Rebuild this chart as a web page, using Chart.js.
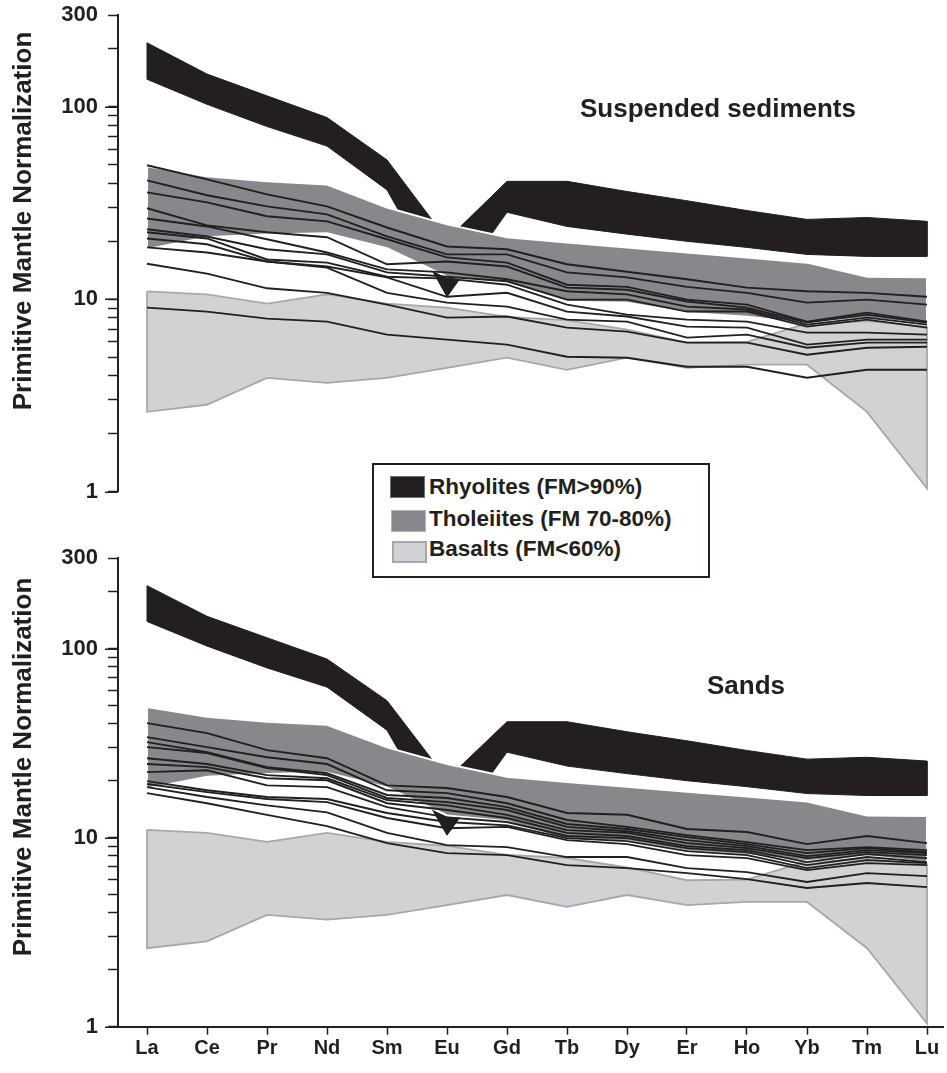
<!DOCTYPE html>
<html>
<head>
<meta charset="utf-8">
<title>REE patterns – suspended sediments and sands</title>
<script src="https://cdn.jsdelivr.net/npm/chart.js@4.4.1/dist/chart.umd.min.js"></script>
<style>
  html, body { margin: 0; padding: 0; background: #fff; }
  #page {
    position: relative; width: 947px; height: 1073px; overflow: hidden;
    font-family: "Liberation Sans", Arial, Helvetica, sans-serif; font-weight: bold; color: #231f20;
  }
  canvas { position: absolute; left: 0; }
  #topChart { top: 0; }
  #bottomChart { top: 540px; }
  .txt { position: absolute; white-space: nowrap; line-height: 1; }
  .caption { font-size: 26px; transform: translateX(-50%); }
  .ytitle { font-size: 26px; line-height: 26px; transform: translate(-50%, -50%) rotate(-90deg); }
  #legend {
    position: absolute; left: 372px; top: 463px; width: 338px; height: 115px;
    box-sizing: border-box; border: 2px solid #231f20; background: #fff;
  }
  .sw { position: absolute; box-sizing: border-box; width: 35px; height: 22px; }
  .legtxt { font-size: 22.5px; }
</style>
</head>
<body>
<div id="page">
  <canvas id="topChart" width="947" height="505"></canvas>
  <canvas id="bottomChart" width="947" height="533"></canvas>

  <div class="txt ytitle" style="left:22px; top:221px;">Primitive Mantle Normalization</div>
  <div class="txt ytitle" style="left:22px; top:767px;">Primitive Mantle Normalization</div>

  <div class="txt caption" style="left:718px; top:95px;">Suspended sediments</div>
  <div class="txt caption" style="left:746px; top:672px;">Sands</div>

  <div id="legend"></div>
  <div class="sw" style="left:390px; top:476px; background:#231f20; border:1px solid #6d6e71;"></div>
  <div class="sw" style="left:391px; top:510px; background:#87888c; border:1px solid #b3b4b7;"></div>
  <div class="sw" style="left:392px; top:541px; background:#d1d2d4; border:2px solid #a6a8ab;"></div>
  <div class="txt legtxt" style="left:429px; top:476px;">Rhyolites (FM&gt;90%)</div>
  <div class="txt legtxt" style="left:429px; top:508px;">Tholeiites (FM 70-80%)</div>
  <div class="txt legtxt" style="left:429px; top:538px;">Basalts (FM&lt;60%)</div>
</div>

<script>
// Rare earth elements along the x axis (order as plotted)
const elements = ['La', 'Ce', 'Pr', 'Nd', 'Sm', 'Eu', 'Gd', 'Tb', 'Dy', 'Er', 'Ho', 'Yb', 'Tm', 'Lu'];

// Y axis: tick marks and the values that carry a label
const yTickValues = [1, 2, 3, 4, 5, 6, 7, 8, 9, 10, 20, 30, 40, 50, 60, 70, 80, 90, 100, 200, 300];
const yLabelValues = [1, 10, 100, 300];

// Reference fields (upper / lower envelope, primitive-mantle normalized)
const rhyoliteUpper  = [215, 148, 114, 88, 53, 20.4, 41, 41, 36.3, 32.5, 28.9, 26, 26.6, 25.4];
const rhyoliteLower  = [139, 103, 79, 62.5, 37, 10.3, 28.3, 23.9, 21.8, 20, 18.6, 17.1, 16.7, 16.7];
const tholeiiteUpper = [49.1, 43.6, 41, 39.5, 30, 24.5, 21, 19.7, 18.6, 17.5, 16.5, 15.5, 13.1, 13];
const tholeiiteLower = [18.2, 21, 21.7, 22, 18.4, 13.1, 12.2, 9.7, 9.6, 8.5, 8.1, 7.5, 8.0, 7.4];
const basaltUpper    = [11, 10.6, 9.5, 10.6, 9.5, 9.05, 8.1, 7.8, 6.95, 5.95, 6.0, 7.5, 7.7, 7.2];
const basaltLower    = [2.6, 2.83, 3.9, 3.68, 3.9, 4.4, 4.97, 4.3, 4.97, 4.4, 4.57, 4.57, 2.6, 1.04];

// Suspended sediment samples
const ssA = [49.7, 42.0, 35.1, 30.4, 23.6, 18.8, 18.2, 15.2, 13.9, 12.7, 11.5, 11.0, 10.8, 10.3];
const ssB = [41.5, 34.7, 30.4, 27.6, 21.2, 17.1, 17.1, 13.8, 13.0, 11.6, 10.8, 9.61, 9.96, 9.38];
const ssC = [35.9, 31.9, 27.0, 25.4, 20.5, 16.5, 15.5, 11.9, 11.6, 9.96, 9.38, 7.65, 8.52, 7.65];
const ssD = [29.7, 24.2, 22.3, 21.0, 15.2, 15.7, 14.8, 11.5, 11.2, 9.73, 9.05, 7.56, 8.32, 7.56];
const ssE = [26.3, 23.9, 20.5, 17.5, 14.3, 13.8, 12.7, 11.0, 10.6, 9.16, 8.84, 7.38, 8.03, 7.38];
const ssF = [23.1, 21.2, 18.2, 17.1, 13.8, 13.1, 12.4, 9.96, 9.96, 8.63, 8.63, 7.21, 7.84, 7.12];
const ssG = [22.3, 20.7, 16.1, 15.5, 13.1, 12.8, 11.9, 9.38, 8.32, 7.84, 7.65, 6.71, 6.71, 6.55];
const ssH = [20.7, 19.3, 15.7, 14.8, 13.0, 10.3, 10.8, 8.63, 8.13, 7.21, 7.12, 5.81, 6.17, 6.17];
const ssI = [18.6, 17.5, 15.7, 14.6, 10.8, 9.61, 9.16, 7.84, 7.65, 6.32, 6.55, 5.60, 5.95, 5.95];
const ssJ = [15.3, 13.6, 11.4, 10.8, 9.38, 8.03, 8.13, 7.12, 6.79, 5.95, 5.95, 5.15, 5.60, 5.67];
const ssK = [9.05, 8.63, 7.93, 7.65, 6.55, 6.17, 5.81, 5.03, 4.97, 4.46, 4.46, 3.91, 4.30, 4.30];
const suspendedSamples = [ssA, ssB, ssC, ssD, ssE, ssF, ssG, ssH, ssI, ssJ, ssK];

// Sand samples
const sdA = [40.3, 35.7, 29.0, 26.3, 18.9, 18.3, 16.4, 13.5, 13.2, 11.1, 10.7, 9.24, 10.2, 9.35];
const sdB = [34.0, 30.1, 26.6, 24.5, 17.8, 17.2, 15.2, 12.4, 11.4, 10.3, 9.47, 8.59, 8.91, 8.59];
const sdC = [32.0, 28.3, 23.6, 21.9, 16.8, 16.2, 14.5, 11.8, 11.1, 10.06, 9.24, 8.28, 8.80, 8.38];
const sdD = [30.1, 28.0, 23.3, 21.4, 16.2, 15.4, 14.0, 11.4, 10.8, 9.70, 9.02, 7.98, 8.59, 8.28];
const sdE = [26.3, 24.5, 21.4, 20.6, 15.8, 14.8, 13.2, 10.96, 10.6, 9.35, 8.80, 7.79, 8.38, 8.08];
const sdF = [24.5, 23.6, 20.6, 20.1, 15.2, 14.0, 12.7, 10.6, 10.2, 9.02, 8.59, 7.42, 8.18, 7.79];
const sdG = [22.2, 22.7, 18.9, 18.5, 14.5, 12.8, 12.1, 10.2, 9.94, 8.80, 8.38, 7.15, 7.89, 7.42];
const sdH = [19.9, 17.8, 16.4, 16.0, 13.5, 12.1, 11.6, 9.94, 9.58, 8.48, 8.08, 6.90, 7.60, 7.33];
const sdI = [19.2, 17.4, 16.0, 15.4, 12.7, 11.2, 11.4, 9.70, 9.24, 8.08, 7.79, 6.73, 7.33, 7.15];
const sdJ = [18.5, 16.4, 14.8, 13.6, 10.6, 9.13, 8.91, 7.89, 7.89, 6.90, 6.57, 5.82, 6.49, 6.26];
const sdK = [17.2, 15.2, 13.2, 11.5, 9.35, 8.28, 8.08, 7.15, 6.90, 6.49, 6.03, 5.41, 5.75, 5.47];
const sandSamples = [sdA, sdB, sdC, sdD, sdE, sdF, sdG, sdH, sdI, sdJ, sdK];

const INK = '#231f20';
const FONT = '"Liberation Sans", Arial, Helvetica, sans-serif';

// Closed outline of a field: upper envelope left→right, lower envelope back right→left
function fieldPolygon(upper, lower) {
  const pts = upper.map((v, i) => ({ x: i, y: v }));
  for (let i = lower.length - 1; i >= 0; i--) pts.push({ x: i, y: lower[i] });
  pts.push({ x: 0, y: upper[0] });
  return pts;
}

function sampleSeries(values) {
  return values.map((v, i) => ({ x: i, y: v }));
}

// Longer tick marks on the decades of the log axis
const decadeTicks = {
  id: 'decadeTicks',
  afterDraw(chart) {
    const s = chart.scales.y;
    const ctx = chart.ctx;
    ctx.save();
    ctx.strokeStyle = INK;
    ctx.lineWidth = 1.5;
    [1, 10, 100].forEach(v => {
      const py = Math.round(s.getPixelForValue(v)) + 0.25;
      ctx.beginPath();
      ctx.moveTo(s.right - 13, py);
      ctx.lineTo(s.right, py);
      ctx.stroke();
    });
    ctx.restore();
  }
};

function buildPanel(canvasId, samples, showX, padding) {
  const datasets = [];
  samples.forEach(values => {
    datasets.push({
      data: sampleSeries(values),
      borderColor: INK, borderWidth: 1.9, pointRadius: 0, fill: false, tension: 0,
      borderJoinStyle: 'miter', order: 0
    });
  });
  datasets.push({
    data: fieldPolygon(tholeiiteUpper, tholeiiteLower), fill: 'shape',
    backgroundColor: '#87888c', borderColor: '#ffffff', borderWidth: 2, pointRadius: 0, tension: 0, order: 1
  });
  datasets.push({
    data: fieldPolygon(rhyoliteUpper, rhyoliteLower), fill: 'shape',
    backgroundColor: INK, borderColor: INK, borderWidth: 1, pointRadius: 0, tension: 0,
    borderJoinStyle: 'miter', order: 2
  });
  datasets.push({
    data: fieldPolygon(basaltUpper, basaltLower), fill: 'shape',
    backgroundColor: '#d1d2d4', borderColor: '#a6a8ab', borderWidth: 1.8, pointRadius: 0, tension: 0, order: 3
  });

  return new Chart(document.getElementById(canvasId), {
    type: 'line',
    data: { datasets },
    plugins: [decadeTicks],
    options: {
      responsive: false,
      animation: false,
      devicePixelRatio: 1,
      events: [],
      layout: { autoPadding: false, padding },
      plugins: { legend: { display: false }, tooltip: { enabled: false }, title: { display: false } },
      scales: {
        x: {
          type: 'linear',
          display: showX,
          min: -29 / 60,
          max: 13 + 16 / 60,
          afterBuildTicks: s => { s.ticks = elements.map((e, i) => ({ value: i })); },
          afterFit: s => {
            s.height = showX ? 46.3 : 0;
            s.paddingLeft = 0;
            s.paddingRight = 0;
          },
          ticks: {
            autoSkip: false, maxRotation: 0, padding: 2, color: INK,
            font: { family: FONT, size: 20, weight: 'bold' },
            callback: v => elements[v]
          },
          grid: { drawOnChartArea: false, drawTicks: true, tickLength: 8, tickWidth: 1.5, tickColor: INK },
          border: { display: true, color: INK, width: 2 }
        },
        y: {
          type: 'logarithmic',
          min: 1,
          max: 300,
          afterBuildTicks: s => { s.ticks = yTickValues.map(v => ({ value: v })); },
          afterFit: s => { s.width = 118; s.paddingTop = 0; s.paddingBottom = 0; },
          ticks: {
            autoSkip: false, padding: 10, color: INK,
            font: { family: FONT, size: 22, weight: 'bold' },
            callback: v => (yLabelValues.includes(v) ? String(v) : '')
          },
          grid: { drawOnChartArea: false, drawTicks: true, tickLength: 10, tickWidth: 1.5, tickColor: INK },
          border: { display: true, color: INK, width: 2 }
        }
      }
    }
  });
}

buildPanel('topChart', suspendedSamples, false, { top: 15, bottom: 13.3, left: 0, right: 4 });
buildPanel('bottomChart', sandSamples, true, { top: 18.3, bottom: 0, left: 0, right: 4 });
</script>
</body>
</html>
